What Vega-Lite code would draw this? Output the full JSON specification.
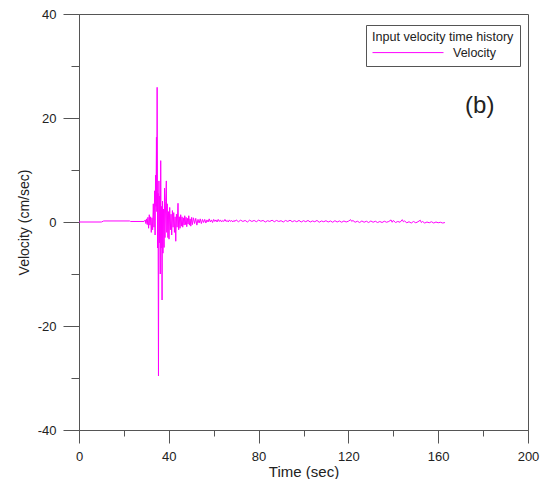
{
  "$schema": "https://vega.github.io/schema/vega-lite/v6.json",
  "width": 449,
  "height": 416,
  "autosize": {"type": "none"},
  "padding": {"left": 79, "top": 14, "right": 20, "bottom": 49},
  "background": "white",
  "config": {
    "font": "Liberation Sans",
    "view": {"stroke": "#555", "strokeWidth": 1}
  },
  "layer": [
    {
      "data": {
        "values": [
          {"t": 0, "v": 0}, {"t": 10, "v": 0}, {"t": 11, "v": 0.2}, {"t": 22.5, "v": 0.2}, {"t": 23, "v": 0.1}, {"t": 29, "v": 0.1},
          {"t": 29.5, "v": 0.4}, {"t": 29.8, "v": -0.3}, {"t": 30.1, "v": 0.6}, {"t": 30.4, "v": -0.5}, {"t": 30.7, "v": 0.9},
          {"t": 31.0, "v": -1.2}, {"t": 31.3, "v": 1.4}, {"t": 31.6, "v": -0.6}, {"t": 31.9, "v": 1.0}, {"t": 32.2, "v": -2.0},
          {"t": 32.5, "v": 0.8}, {"t": 32.8, "v": -1.5}, {"t": 33.1, "v": 3.5}, {"t": 33.4, "v": -1.0}, {"t": 33.7, "v": 6.0},
          {"t": 33.9, "v": -2.5}, {"t": 34.1, "v": 9.0}, {"t": 34.3, "v": 3.0}, {"t": 34.5, "v": 16.3}, {"t": 34.65, "v": 2.0},
          {"t": 34.8, "v": 25.9}, {"t": 35.0, "v": -5.0}, {"t": 35.2, "v": 5.5}, {"t": 35.4, "v": -29.6}, {"t": 35.6, "v": 7.9},
          {"t": 35.8, "v": -4.0}, {"t": 36.0, "v": 5.0}, {"t": 36.2, "v": -10.0}, {"t": 36.4, "v": 11.8}, {"t": 36.6, "v": -5.0},
          {"t": 36.8, "v": 3.0}, {"t": 37.0, "v": -15.0}, {"t": 37.2, "v": 4.0}, {"t": 37.4, "v": -6.0}, {"t": 37.6, "v": 2.5},
          {"t": 37.9, "v": -4.9}, {"t": 38.1, "v": 6.5}, {"t": 38.3, "v": -3.0}, {"t": 38.6, "v": 4.0}, {"t": 38.9, "v": 7.9},
          {"t": 39.1, "v": -2.0}, {"t": 39.3, "v": 3.5}, {"t": 39.6, "v": -3.0}, {"t": 39.9, "v": 2.0}, {"t": 40.1, "v": -3.3},
          {"t": 40.4, "v": 2.8}, {"t": 40.7, "v": -1.5}, {"t": 41.0, "v": 1.5}, {"t": 41.3, "v": -2.5}, {"t": 41.6, "v": 2.2},
          {"t": 41.9, "v": -1.0}, {"t": 42.2, "v": 1.8}, {"t": 42.5, "v": -2.0}, {"t": 42.8, "v": 1.0}, {"t": 43.1, "v": -3.7},
          {"t": 43.4, "v": 1.5}, {"t": 43.7, "v": -1.0}, {"t": 44.1, "v": 3.6}, {"t": 44.4, "v": -1.5}, {"t": 44.7, "v": 1.0},
          {"t": 45.0, "v": -1.2}, {"t": 45.3, "v": 1.4}, {"t": 45.6, "v": -0.8}, {"t": 45.9, "v": 1.0}, {"t": 46.2, "v": -1.0},
          {"t": 46.5, "v": 0.8}, {"t": 46.8, "v": -0.6}, {"t": 47.1, "v": 1.2}, {"t": 47.4, "v": -0.5}, {"t": 47.7, "v": 0.9},
          {"t": 48.0, "v": -0.9}, {"t": 48.3, "v": 0.7}, {"t": 48.6, "v": -0.4}, {"t": 48.9, "v": 1.2}, {"t": 49.2, "v": -0.6},
          {"t": 49.5, "v": 0.6}, {"t": 49.8, "v": -0.8}, {"t": 50.2, "v": 0.9}, {"t": 50.5, "v": -0.5}, {"t": 51.0, "v": 0.8},
          {"t": 51.5, "v": -0.3}, {"t": 52.0, "v": 0.7}, {"t": 52.5, "v": -0.6}, {"t": 53.0, "v": 0.5}, {"t": 53.5, "v": -0.2},
          {"t": 54.0, "v": 0.6}, {"t": 54.5, "v": -0.3}, {"t": 55.0, "v": 0.5}, {"t": 55.5, "v": -0.1}, {"t": 56.0, "v": 0.5},
          {"t": 56.5, "v": -0.2}, {"t": 57.0, "v": 0.4}, {"t": 57.5, "v": 0.0}, {"t": 58.0, "v": 0.6}, {"t": 58.5, "v": 0.0},
          {"t": 59.0, "v": 0.4}, {"t": 59.5, "v": -0.1}, {"t": 60.0, "v": 0.5}, {"t": 60.5, "v": 0.1}, {"t": 61.0, "v": 0.4},
          {"t": 61.5, "v": 0.0}, {"t": 62.0, "v": 0.5}, {"t": 62.5, "v": 0.1}, {"t": 63.0, "v": 0.4}, {"t": 63.5, "v": 0.0},
          {"t": 64.0, "v": 0.3}, {"t": 64.5, "v": 0.1}, {"t": 65.0, "v": 0.5}, {"t": 65.5, "v": 0.1}, {"t": 66.0, "v": 0.3},
          {"t": 66.5, "v": 0.0}, {"t": 67.0, "v": 0.4}, {"t": 67.5, "v": 0.1}, {"t": 68.0, "v": 0.3}, {"t": 68.5, "v": 0.0},
          {"t": 69.0, "v": 0.3}, {"t": 69.5, "v": 0.1}, {"t": 70, "v": 0.4}, {"t": 71, "v": 0.05}, {"t": 72, "v": 0.35},
          {"t": 73, "v": 0.1}, {"t": 74, "v": 0.3}, {"t": 75, "v": 0.0}, {"t": 76, "v": 0.35}, {"t": 77, "v": 0.1},
          {"t": 78, "v": 0.3}, {"t": 79, "v": 0.05}, {"t": 80, "v": 0.35}, {"t": 81, "v": 0.15}, {"t": 82, "v": 0.3},
          {"t": 83, "v": 0.0}, {"t": 84, "v": 0.25}, {"t": 85, "v": 0.1}, {"t": 86, "v": 0.35}, {"t": 87, "v": 0.05},
          {"t": 88, "v": 0.3}, {"t": 89, "v": 0.1}, {"t": 90, "v": 0.25}, {"t": 91, "v": 0.0}, {"t": 92, "v": 0.3},
          {"t": 93, "v": 0.1}, {"t": 94, "v": 0.35}, {"t": 95, "v": 0.05}, {"t": 96, "v": 0.25}, {"t": 97, "v": 0.05},
          {"t": 98, "v": 0.3}, {"t": 99, "v": 0.0}, {"t": 100, "v": 0.25}, {"t": 101, "v": 0.05}, {"t": 102, "v": 0.3},
          {"t": 103, "v": 0.0}, {"t": 104, "v": 0.2}, {"t": 105, "v": 0.05}, {"t": 106, "v": 0.3}, {"t": 107, "v": -0.05},
          {"t": 108, "v": 0.2}, {"t": 109, "v": 0.05}, {"t": 110, "v": 0.25}, {"t": 111, "v": 0.0}, {"t": 112, "v": 0.2},
          {"t": 113, "v": -0.05}, {"t": 114, "v": 0.25}, {"t": 115, "v": 0.0}, {"t": 116, "v": 0.2}, {"t": 117, "v": -0.05},
          {"t": 118, "v": 0.2}, {"t": 119, "v": 0.0}, {"t": 120, "v": 0.15}, {"t": 121, "v": 0.45}, {"t": 121.5, "v": 0.1},
          {"t": 122, "v": 0.3}, {"t": 123, "v": -0.05}, {"t": 124, "v": 0.15}, {"t": 125, "v": -0.1}, {"t": 126, "v": 0.2},
          {"t": 127, "v": -0.05}, {"t": 128, "v": 0.15}, {"t": 129, "v": -0.1}, {"t": 130, "v": 0.2}, {"t": 131, "v": -0.05},
          {"t": 132, "v": 0.15}, {"t": 133, "v": -0.1}, {"t": 134, "v": 0.1}, {"t": 135, "v": -0.1}, {"t": 136, "v": 0.15},
          {"t": 137, "v": -0.05}, {"t": 138, "v": 0.1}, {"t": 139, "v": 0.4}, {"t": 139.5, "v": -0.05}, {"t": 140, "v": 0.3},
          {"t": 141, "v": -0.1}, {"t": 142, "v": 0.1}, {"t": 143, "v": -0.05}, {"t": 144, "v": 0.45}, {"t": 144.5, "v": 0.05},
          {"t": 145, "v": 0.2}, {"t": 146, "v": -0.15}, {"t": 147, "v": 0.05}, {"t": 148, "v": -0.2}, {"t": 149, "v": 0.1},
          {"t": 150, "v": -0.15}, {"t": 151, "v": 0.05}, {"t": 152, "v": 0.35}, {"t": 152.5, "v": -0.1}, {"t": 153, "v": 0.1},
          {"t": 154, "v": -0.2}, {"t": 155, "v": 0.0}, {"t": 156, "v": -0.15}, {"t": 157, "v": 0.05}, {"t": 158, "v": -0.2},
          {"t": 159, "v": 0.0}, {"t": 160, "v": -0.15}, {"t": 161, "v": -0.05}, {"t": 162, "v": -0.2}, {"t": 163, "v": -0.1}
        ]
      },
      "mark": {"type": "line", "strokeWidth": 1, "clip": true},
      "encoding": {
        "x": {
          "field": "t",
          "type": "quantitative",
          "scale": {"domain": [0, 200], "nice": false},
          "axis": {
            "title": "Time (sec)",
            "values": [0, 20, 40, 60, 80, 100, 120, 140, 160, 180, 200],
            "labelExpr": "datum.value % 40 === 0 ? datum.label : ''",
            "tickSize": {"condition": {"test": "datum.value % 40 === 0", "value": 13}, "value": 6},
            "grid": false,
            "domainColor": "#555",
            "tickColor": "#555",
            "labelColor": "#222",
            "labelFontSize": 13,
            "labelPadding": 7,
            "labelFlush": false,
            "labelOverlap": false,
            "titleFontSize": 15,
            "titleFontWeight": "normal",
            "titleColor": "#222",
            "titlePadding": 1
          }
        },
        "y": {
          "field": "v",
          "type": "quantitative",
          "scale": {"domain": [-40, 40], "nice": false},
          "axis": {
            "title": "Velocity (cm/sec)",
            "values": [-40, -30, -20, -10, 0, 10, 20, 30, 40],
            "labelExpr": "datum.value % 20 === 0 ? '' + datum.value : ''",
            "tickSize": {"condition": {"test": "datum.value % 20 === 0", "value": 16}, "value": 8},
            "grid": false,
            "domainColor": "#555",
            "tickColor": "#555",
            "labelColor": "#222",
            "labelFontSize": 13,
            "labelPadding": 7,
            "labelFlush": false,
            "labelOverlap": false,
            "titleFontSize": 14,
            "titleFontWeight": "normal",
            "titleColor": "#222",
            "titlePadding": 6
          }
        },
        "color": {
          "datum": "Velocity",
          "scale": {"range": ["#ff00ff"]},
          "legend": {
            "title": "Input velocity time history",
            "orient": "none",
            "legendX": 287,
            "legendY": 11,
            "padding": 6,
            "strokeColor": "#555",
            "fillColor": "white",
            "cornerRadius": 0,
            "titleFontSize": 12.6,
            "titleFontWeight": "normal",
            "titleColor": "#222",
            "titleLimit": 300,
            "titlePadding": 2,
            "labelFontSize": 12.5,
            "labelColor": "#222",
            "labelOffset": 9,
            "symbolType": "stroke",
            "symbolSize": 5041,
            "symbolStrokeWidth": 1,
            "clipHeight": 14
          }
        }
      }
    },
    {
      "data": {"values": [{"label": "(b)", "t": 178.5, "v": 22.4}]},
      "mark": {"type": "text", "fontSize": 24, "fontWeight": "normal", "fill": "#222", "align": "center", "baseline": "middle"},
      "encoding": {
        "x": {"field": "t", "type": "quantitative"},
        "y": {"field": "v", "type": "quantitative"},
        "text": {"field": "label"}
      }
    }
  ]
}
